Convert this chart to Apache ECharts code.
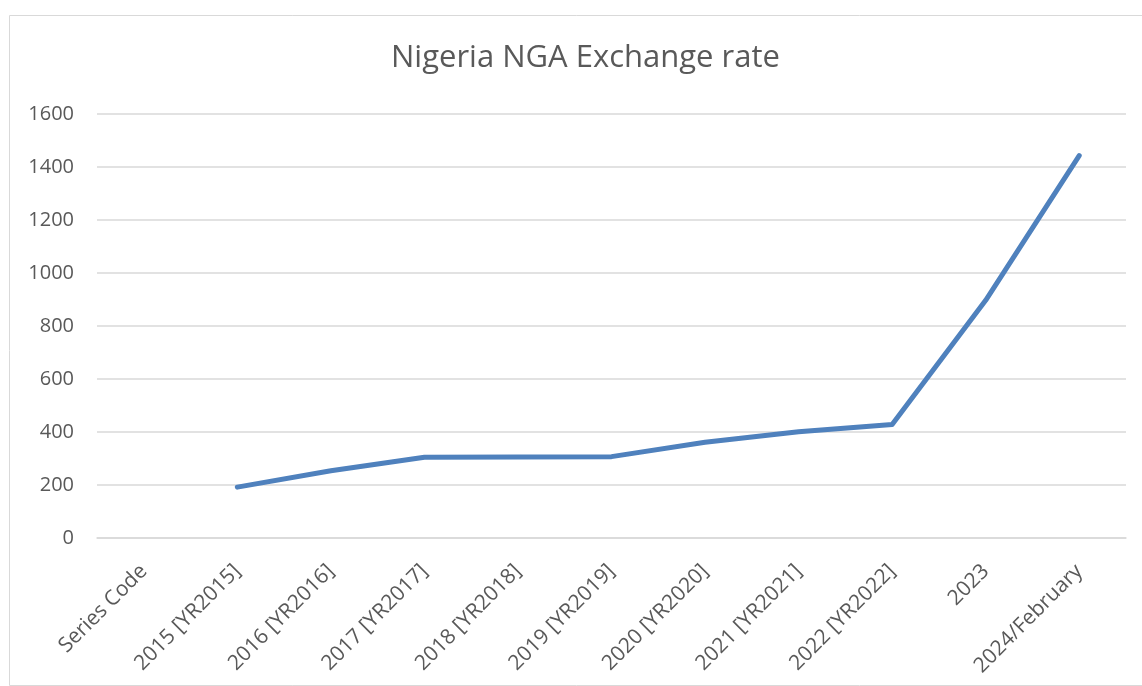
<!DOCTYPE html>
<html>
<head>
<meta charset="utf-8">
<script src="https://cdn.jsdelivr.net/npm/echarts@6/dist/echarts.min.js"></script>
<style>
html,body{margin:0;padding:0;background:#fff;}
#c{width:1142px;height:686px;}
</style>
</head>
<body>
<div id="c"></div>
<script>
const categories = ["Series Code","2015 [YR2015]","2016 [YR2016]","2017 [YR2017]","2018 [YR2018]","2019 [YR2019]","2020 [YR2020]","2021 [YR2021]","2022 [YR2022]","2023","2024/February"];
const rates = [null,192,254,305,306,307,361,401,428,897,1443];
const yTicks = {min:0,max:1600,interval:200};

const chart = echarts.init(document.getElementById('c'));
chart.setOption({
  animation:false,
  textStyle:{fontFamily:'Open Sans'},
  graphic:[{type:'rect',shape:{x:9.5,y:15.5,width:1140,height:670},style:{fill:'none',stroke:'#d9d9d9',lineWidth:1},silent:true}],
  title:{text:'Nigeria NGA Exchange rate',left:386,top:38,textStyle:{fontFamily:'Open Sans',fontSize:31,fontWeight:'normal',color:'#595959'}},
  grid:{left:97,right:16,top:114,bottom:148},
  xAxis:{type:'category',data:categories,boundaryGap:true,
    axisLine:{show:true,lineStyle:{color:'#d9d9d9',width:1.5}},axisTick:{show:false},
    axisLabel:{rotate:45,fontSize:21,color:'#595959',margin:30,interval:0}},
  yAxis:{type:'value',min:yTicks.min,max:yTicks.max,interval:yTicks.interval,
    axisLine:{show:false},axisTick:{show:false},
    axisLabel:{fontSize:20,color:'#595959',margin:23,formatter:v=>String(v)}},
  series:[{type:'line',data:rates,showSymbol:false,connectNulls:false,
    lineStyle:{color:'#4f81bd',width:5,cap:'round',join:'round'}}]
});
chart.setOption({yAxis:{splitLine:{lineStyle:{color:'#d9d9d9',width:1.5}}}});
</script>
</body>
</html>
